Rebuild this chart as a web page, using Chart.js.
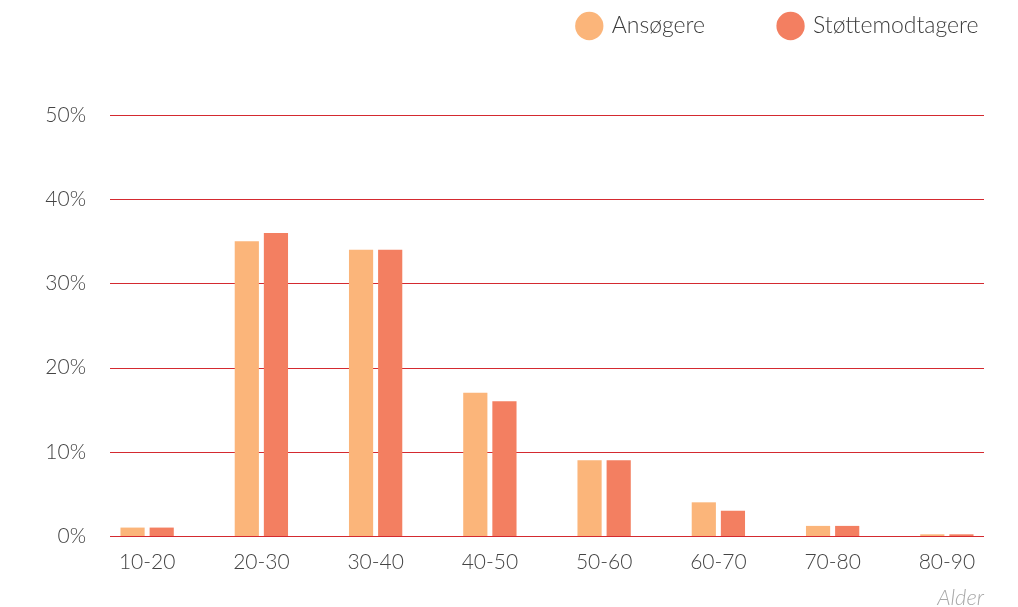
<!DOCTYPE html>
<html>
<head>
<meta charset="utf-8">
<script src="https://cdn.jsdelivr.net/npm/chart.js@4"></script>
<style>
  body { margin: 0; background: #fff; }
  #wrap { width: 1018px; height: 607px; }
</style>
</head>
<body>
<div id="wrap"><canvas id="aldersChart" width="1018" height="607"></canvas></div>
<script>
// --- data ---
const kategorier = ['10-20', '20-30', '30-40', '40-50', '50-60', '60-70', '70-80', '80-90'];
const ansogere = [1, 35, 34, 17, 9, 4, 1.2, 0.2];
const stottemodtagere = [1, 36, 34, 16, 9, 3, 1.2, 0.2];
const yMax = 50;
const yStep = 10;
const akseTitel = 'Alder';

const fontFam = 'Lato, "Open Sans", sans-serif';

// grid lines drawn a bit inside the plot area, like the original
const insetGrid = {
    id: 'insetGrid',
    beforeDatasetsDraw(chart) {
        const { ctx, chartArea, scales } = chart;
        const y = scales.y;
        ctx.save();
        ctx.strokeStyle = '#d42a30';
        ctx.lineWidth = 1;
        y.ticks.forEach(t => {
            const py = Math.round(y.getPixelForValue(t.value)) + 0.5;
            ctx.beginPath();
            ctx.moveTo(chartArea.left + 20, py);
            ctx.lineTo(chartArea.right - 20, py);
            ctx.stroke();
        });
        ctx.restore();
    },
    afterDraw(chart) {
        // axis title, right aligned with the grid end
        const { ctx, chartArea } = chart;
        ctx.save();
        ctx.font = 'italic 300 22px ' + fontFam;
        ctx.fillStyle = '#a8a8a8';
        ctx.textAlign = 'right';
        ctx.textBaseline = 'middle';
        ctx.fillText(akseTitel, chartArea.right - 20, chart.height - 9);
        ctx.restore();
    }
};

// legend: fixed height, and moved up/right so the items sit like the original
const legendPlace = {
    id: 'legendPlace',
    beforeInit(chart) {
        const fit = chart.legend.fit;
        chart.legend.fit = function () {
            fit.bind(chart.legend)();
            this.height = 115;
        };
    },
    afterLayout(chart) {
        chart.legend.top = -60;
        chart.legend.right = chart.width + 35;
    }
};

new Chart(document.getElementById('aldersChart'), {
    type: 'bar',
    data: {
        labels: kategorier,
        datasets: [{
            label: 'Ansøgere',
            data: ansogere,
            backgroundColor: '#fbb57a',
            categoryPercentage: 0.51,
            barPercentage: 0.83
        }, {
            label: 'Støttemodtagere',
            data: stottemodtagere,
            backgroundColor: '#f37f61',
            categoryPercentage: 0.51,
            barPercentage: 0.83
        }]
    },
    options: {
        responsive: false,
        animation: false,
        layout: { padding: { left: 0, right: 14, top: 0, bottom: 0 } },
        plugins: {
            legend: {
                position: 'top',
                align: 'end',
                labels: {
                    usePointStyle: true,
                    pointStyle: 'circle',
                    boxWidth: 22,
                    boxHeight: 20,
                    color: '#3c3c3c',
                    padding: 74.5,
                    font: { family: fontFam, size: 23, weight: 300 }
                }
            },
            tooltip: { enabled: false }
        },
        scales: {
            x: {
                grid: { display: false, drawTicks: false },
                border: { display: false },
                afterFit(scale) { scale.height = 71; },
                ticks: {
                    color: '#444',
                    padding: 14,
                    font: { family: fontFam, size: 21, weight: 300 }
                }
            },
            y: {
                min: 0,
                max: yMax,
                grid: { display: false, drawTicks: false },
                border: { display: false },
                afterFit(scale) { scale.width = 90; },
                ticks: {
                    stepSize: yStep,
                    color: '#444',
                    padding: 4,
                    font: { family: fontFam, size: 21, weight: 300 },
                    callback: v => v + '%'
                }
            }
        }
    },
    plugins: [insetGrid, legendPlace]
});
</script>
</body>
</html>
